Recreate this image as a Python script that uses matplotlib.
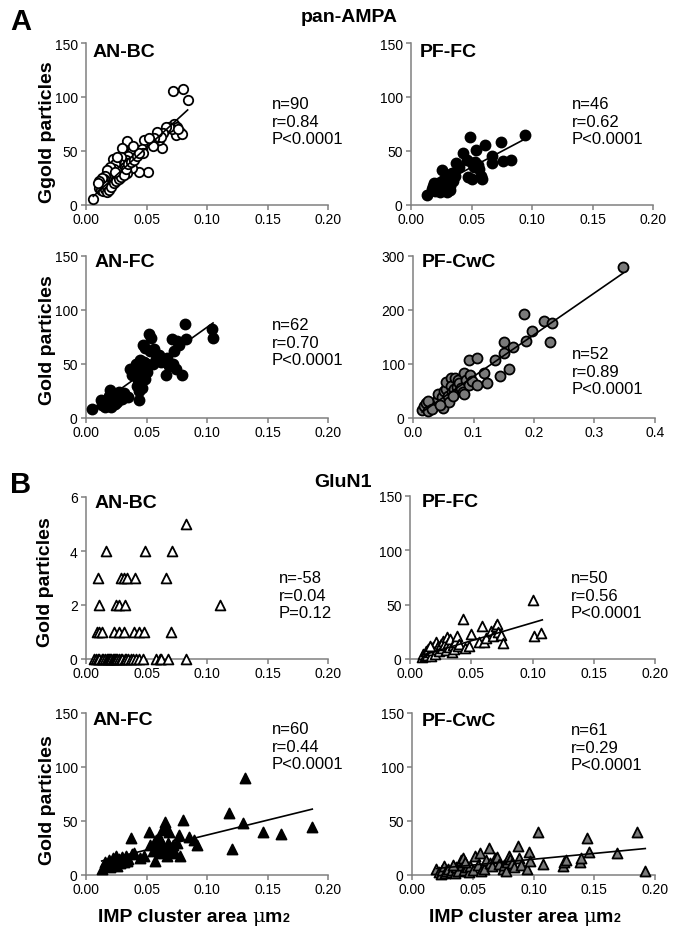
import matplotlib
matplotlib.use('Agg')
import matplotlib.pyplot as plt
from matplotlib.transforms import IdentityTransform

plt.rcParams['font.family'] = ['Liberation Sans', 'DejaVu Sans']

# ---------------- DATA ----------------
# A: pan-AMPA, AN-BC (open circles)
a_anbc_x = [0.072,0.080,0.084,
            0.073,0.075,0.078,0.074,0.079,0.071,0.069,0.076,
            0.066,0.064,0.063,0.060,0.058,0.062,0.059,0.056,0.054,0.055,
            0.048,0.052,0.046,0.047,0.051,0.044,
            0.034,0.030,0.038,0.040,0.037,0.035,
            0.033,0.036,0.038,0.031,0.029,0.028,0.026,0.027,0.025,
            0.022,0.024,0.023,0.021,0.020,0.019,0.018,0.020,0.022,0.024,
            0.026,0.028,0.030,0.032,0.034,0.017,0.016,0.015,0.014,
            0.013,0.012,0.011,0.012,0.014,0.016,0.018,0.015,0.013,0.011,
            0.010,0.017,0.019,0.021,0.023,0.025,0.027,0.029,0.031,0.033,
            0.035,0.037,0.040,0.042,0.044,0.026,0.024,0.006,0.039]
a_anbc_y = [106,107,97,
            75,72,68,65,66,70,72,70,
            72,67,53,60,62,63,68,62,58,55,
            60,62,52,48,31,31,
            59,53,52,50,48,45,
            42,36,34,40,44,38,35,30,42,
            43,38,33,30,35,28,25,22,24,27,
            26,28,32,35,30,32,27,24,22,
            20,18,16,14,13,15,18,19,25,22,
            20,12,14,17,20,22,24,26,28,33,
            38,40,42,45,48,44,31,6,55]
a_anbc_line_x = [0.006, 0.084]
a_anbc_line_y = [8, 88]

# A: pan-AMPA, PF-FC (filled black circles)
a_pffc_x = [0.013,0.017,0.018,0.020,0.021,0.022,0.023,0.024,0.025,0.026,
            0.026,0.027,0.028,0.029,0.030,0.030,0.031,0.032,0.033,0.034,
            0.035,0.036,0.037,0.043,0.046,0.047,0.049,0.050,0.050,0.052,
            0.053,0.054,0.055,0.056,0.058,0.059,0.061,0.067,0.067,0.074,
            0.076,0.083,0.094,0.040,0.019,0.032]
a_pffc_y = [9,15,18,13,17,20,15,12,18,22,
            32,16,24,28,12,20,25,18,29,30,
            22,27,39,48,42,26,63,24,39,35,
            40,51,37,33,27,24,56,39,45,58,
            41,42,65,35,20,14]
a_pffc_line_x = [0.013, 0.094]
a_pffc_line_y = [13, 61]

# A: pan-AMPA, AN-FC (filled black circles)
a_anfc_x = [0.005,0.012,0.013,0.015,0.016,0.017,0.018,0.019,0.020,0.020,
            0.021,0.022,0.023,0.024,0.025,0.026,0.027,0.028,0.030,0.031,
            0.035,0.038,0.040,0.041,0.042,0.043,0.044,0.044,0.045,0.045,
            0.046,0.047,0.047,0.048,0.049,0.049,0.050,0.050,0.052,0.053,
            0.054,0.055,0.056,0.058,0.060,0.062,0.064,0.066,0.067,0.069,
            0.071,0.072,0.073,0.074,0.075,0.077,0.079,0.082,0.083,0.104,
            0.105,0.036]
a_anfc_y = [8,17,12,14,10,16,12,20,26,14,
            10,18,16,13,22,15,24,20,18,23,
            19,40,44,50,30,35,17,25,54,42,
            28,68,47,52,36,65,43,50,78,62,
            74,50,64,55,58,52,53,40,56,48,
            73,50,62,45,71,68,40,87,73,82,
            74,45]
a_anfc_line_x = [0.005, 0.105]
a_anfc_line_y = [8, 88]

# A: pan-AMPA, PF-CwC (grey circles)
a_pfcwc_x = [0.015,0.018,0.022,0.025,0.025,0.031,0.041,0.042,0.048,0.050,
             0.052,0.055,0.055,0.058,0.060,0.062,0.063,0.065,0.068,0.070,
             0.072,0.074,0.076,0.078,0.080,0.082,0.085,0.088,0.092,0.092,
             0.095,0.098,0.105,0.105,0.118,0.122,0.136,0.143,0.151,0.151,
             0.158,0.165,0.183,0.187,0.196,0.216,0.227,0.230,0.347,0.045,
             0.066,0.085]
a_pfcwc_y = [14,23,28,13,32,16,35,44,38,18,
             50,54,66,41,30,75,60,48,53,75,
             58,70,65,50,55,48,84,70,62,107,
             80,68,61,112,83,64,107,78,120,140,
             90,132,193,142,161,180,141,176,280,25,
             40,44]
a_pfcwc_line_x = [0.015, 0.347]
a_pfcwc_line_y = [11, 268]

# B: GluN1, AN-BC (open triangles, no line)
b_anbc_x = [0.083,
            0.0165,0.049,0.071,
            0.0096,0.029,0.031,0.034,0.0405,0.066,
            0.0107,0.0248,0.027,0.0325,0.111,
            0.009,0.011,0.013,0.023,0.027,0.031,0.040,0.044,0.048,0.070,
            0.007,0.008,0.010,0.011,0.013,0.014,0.016,0.017,0.018,0.019,
            0.020,0.021,0.022,0.023,0.024,0.025,0.026,0.027,0.029,0.030,
            0.032,0.033,0.035,0.037,0.039,0.041,0.044,0.047,0.058,0.061,
            0.062,0.068,0.083]
b_anbc_y = [5,
            4,4,4,
            3,3,3,3,3,3,
            2,2,2,2,2,
            1,1,1,1,1,1,1,1,1,1,
            0,0,0,0,0,0,0,0,0,0,
            0,0,0,0,0,0,0,0,0,0,
            0,0,0,0,0,0,0,0,0,0,
            0,0,0]

# B: GluN1, PF-FC (open triangles)
b_pffc_x = [0.010,0.011,0.012,0.013,0.014,0.015,0.016,0.017,0.018,0.019,
            0.020,0.021,0.022,0.023,0.024,0.025,0.026,0.027,0.028,0.029,
            0.030,0.031,0.032,0.033,0.034,0.035,0.036,0.037,0.038,0.039,
            0.040,0.043,0.045,0.048,0.050,0.056,0.059,0.060,0.062,0.066,
            0.068,0.070,0.071,0.072,0.074,0.076,0.100,0.101,0.107,0.016]
b_pffc_y = [2,5,3,7,4,9,6,3,8,11,
            5,16,9,12,7,14,10,17,13,8,
            20,15,11,18,6,13,9,16,21,12,
            14,37,10,12,23,16,30,16,19,26,
            21,30,32,25,22,15,54,21,24,12]
b_pffc_line_x = [0.010, 0.108]
b_pffc_line_y = [3.5, 36]

# B: GluN1, AN-FC (filled black triangles)
b_anfc_x = [0.013,0.016,0.018,0.019,0.020,0.021,0.022,0.023,0.024,0.025,
            0.026,0.027,0.028,0.029,0.030,0.031,0.033,0.034,0.035,0.037,
            0.038,0.040,0.045,0.052,0.053,0.055,0.056,0.057,0.058,0.059,
            0.060,0.061,0.062,0.063,0.064,0.065,0.065,0.066,0.067,0.068,
            0.069,0.070,0.071,0.072,0.075,0.077,0.078,0.080,0.085,0.089,
            0.092,0.118,0.121,0.130,0.131,0.146,0.161,0.187,0.048,0.073]
b_anfc_y = [6,12,9,14,7,11,16,10,13,18,
            8,15,11,14,17,12,18,13,15,34,
            19,20,16,40,28,22,30,13,32,25,
            35,20,31,42,27,49,45,23,18,30,
            40,25,20,28,30,37,18,51,35,32,
            28,57,24,48,90,40,38,44,18,22]
b_anfc_line_x = [0.013, 0.187]
b_anfc_line_y = [13, 61]

# B: GluN1, PF-CwC (grey triangles)
b_pfcwc_x = [0.020,0.022,0.024,0.025,0.026,0.027,0.028,0.030,0.032,0.033,
             0.035,0.036,0.038,0.040,0.041,0.042,0.043,0.045,0.047,0.048,
             0.050,0.052,0.054,0.056,0.057,0.059,0.061,0.063,0.064,0.066,
             0.068,0.070,0.072,0.075,0.076,0.077,0.078,0.080,0.081,0.082,
             0.084,0.087,0.088,0.090,0.095,0.096,0.097,0.104,0.108,0.124,
             0.125,0.127,0.138,0.139,0.144,0.146,0.169,0.185,0.192,0.044,
             0.034]
b_pfcwc_y = [6,3,1,5,8,2,4,6,3,5,
             2,7,4,14,9,16,5,7,3,8,
             5,18,9,20,4,6,14,25,11,8,
             16,17,10,6,9,4,12,18,15,11,
             7,27,16,9,6,21,13,40,10,8,
             12,14,12,16,34,21,20,40,4,12,
             9]
b_pfcwc_line_x = [0.020, 0.192]
b_pfcwc_line_y = [6, 24.5]

titles = ['AN-BC', 'PF-FC', 'AN-FC', 'PF-CwC', 'AN-BC', 'PF-FC', 'AN-FC', 'PF-CwC']
stats = [['n=90', 'r=0.84', 'P<0.0001'],
         ['n=46', 'r=0.62', 'P<0.0001'],
         ['n=62', 'r=0.70', 'P<0.0001'],
         ['n=52', 'r=0.89', 'P<0.0001'],
         ['n=-58', 'r=0.04', 'P=0.12'],
         ['n=50', 'r=0.56', 'P<0.0001'],
         ['n=60', 'r=0.44', 'P<0.0001'],
         ['n=61', 'r=0.29', 'P<0.0001']]
ylabels = ['Ggold particles', None, 'Gold particles', None,
           'Gold particles', None, 'Gold particles', None]
x_ticks_02 = [0.00, 0.05, 0.10, 0.15, 0.20]
x_ticks_04 = [0.0, 0.1, 0.2, 0.3, 0.4]
y_ticks_150 = [0, 50, 100, 150]
y_ticks_300 = [0, 100, 200, 300]
y_ticks_6 = [0, 2, 4, 6]

# ---------------- LAYOUT ----------------
W, H = 678, 937
fig = plt.figure(figsize=(W / 100, H / 100), dpi=100)
PX = IdentityTransform()
GRAY = '#808080'
MGRAY = '#7a7a7a'


def rect(l, r, t, b):
    return [l / W, 1 - b / H, (r - l) / W, (b - t) / H]


def ftext(x, y, s, **kw):
    return fig.text(x, H - y, s, transform=PX, **kw)


panels = [
    dict(r=(86, 328, 44, 206), x=a_anbc_x, y=a_anbc_y, lx=a_anbc_line_x, ly=a_anbc_line_y,
         m='o', fc='white', s=46, xt=x_ticks_02, xf='{:.2f}', yt=y_ticks_150,
         tpos=(93, 53), spos=(272, 122), ylp=(47, 132)),
    dict(r=(411, 653, 44, 206), x=a_pffc_x, y=a_pffc_y, lx=a_pffc_line_x, ly=a_pffc_line_y,
         m='o', fc='black', s=52, xt=x_ticks_02, xf='{:.2f}', yt=y_ticks_150,
         tpos=(420, 53), spos=(572, 122), ylp=None),
    dict(r=(86, 328, 257, 419), x=a_anfc_x, y=a_anfc_y, lx=a_anfc_line_x, ly=a_anfc_line_y,
         m='o', fc='black', s=52, xt=x_ticks_02, xf='{:.2f}', yt=y_ticks_150,
         tpos=(95, 263), spos=(272, 343), ylp=(47, 340)),
    dict(r=(413, 655, 257, 419), x=a_pfcwc_x, y=a_pfcwc_y, lx=a_pfcwc_line_x, ly=a_pfcwc_line_y,
         m='o', fc=MGRAY, s=52, xt=x_ticks_04, xf='{:.1f}', yt=y_ticks_300,
         tpos=(422, 263), spos=(572, 372), ylp=None),
    dict(r=(86, 328, 498, 660), x=b_anbc_x, y=b_anbc_y, lx=None, ly=None,
         m='^', fc='white', s=50, xt=x_ticks_02, xf='{:.2f}', yt=y_ticks_6,
         tpos=(95, 504), spos=(279, 596), ylp=(46, 582)),
    dict(r=(410, 655, 497, 660), x=b_pffc_x, y=b_pffc_y, lx=b_pffc_line_x, ly=b_pffc_line_y,
         m='^', fc='white', s=50, xt=x_ticks_02, xf='{:.2f}', yt=y_ticks_150,
         tpos=(422, 503), spos=(571, 596), ylp=None),
    dict(r=(86, 328, 714, 876), x=b_anfc_x, y=b_anfc_y, lx=b_anfc_line_x, ly=b_anfc_line_y,
         m='^', fc='black', s=52, xt=x_ticks_02, xf='{:.2f}', yt=y_ticks_150,
         tpos=(93, 721), spos=(272, 747), ylp=(47, 800)),
    dict(r=(412, 655, 714, 876), x=b_pfcwc_x, y=b_pfcwc_y, lx=b_pfcwc_line_x, ly=b_pfcwc_line_y,
         m='^', fc=MGRAY, s=52, xt=x_ticks_02, xf='{:.2f}', yt=y_ticks_150,
         tpos=(422, 722), spos=(571, 748), ylp=None),
]

for i, p in enumerate(panels):
    ax = fig.add_axes(rect(*p['r']))
    ax.patch.set_alpha(0)
    ax.set_xlim(p['xt'][0], p['xt'][-1])
    ax.set_ylim(p['yt'][0], p['yt'][-1])
    for s in ['top', 'right']:
        ax.spines[s].set_visible(False)
    for s in ['left', 'bottom']:
        ax.spines[s].set_color(GRAY)
        ax.spines[s].set_linewidth(1.1)
    ax.set_xticks(p['xt'])
    ax.set_xticklabels([p['xf'].format(v) for v in p['xt']])
    ax.set_yticks(p['yt'])
    ax.set_yticklabels([str(v) for v in p['yt']])
    ax.tick_params(direction='out', length=3.5, width=1.1, color=GRAY,
                   labelsize=10, labelcolor='black')
    ax.tick_params(axis='x', pad=1.5)
    ax.tick_params(axis='y', pad=2.5)
    ax.scatter(p['x'], p['y'], s=p['s'], marker=p['m'], facecolors=p['fc'],
               edgecolors='black', linewidths=1.3, clip_on=False, zorder=3)
    if p['lx'] is not None:
        ax.plot(p['lx'], p['ly'], color='black', lw=1.2, zorder=4, clip_on=False)
    # title
    ftext(p['tpos'][0], p['tpos'][1], titles[i], fontsize=14, fontweight='bold',
          ha='left', va='center')
    # stats
    sx, sy = p['spos']
    for k, line in enumerate(stats[i]):
        ftext(sx, sy + 5 + (k - 1) * 17.5, line, fontsize=12, ha='left', va='baseline')
    if p['ylp'] is not None:
        ftext(p['ylp'][0], p['ylp'][1], ylabels[i], fontsize=14, fontweight='bold',
              rotation=90, ha='center', va='center')

# panel letters and group headings
ftext(10, 22, 'A', fontsize=21, fontweight='bold', ha='left', va='center')
ftext(10, 485, 'B', fontsize=21, fontweight='bold', ha='left', va='center')
ftext(349, 18, 'pan-AMPA', fontsize=14, fontweight='bold', ha='center', va='center')
ftext(343, 483, 'GluN1', fontsize=14, fontweight='bold', ha='center', va='center')

# x labels built from pieces: "IMP cluster area " bold, "μ" regular, "m" bold, "2" small bold
renderer = fig.canvas.get_renderer()
pieces = [('IMP cluster area ', dict(fontsize=14, fontweight='bold')),
          ('\u03bc', dict(fontsize=14, fontweight='normal', family=['DejaVu Serif'])),
          ('m', dict(fontsize=14, fontweight='bold')),
          ('2', dict(fontsize=9, fontweight='bold'))]
for x0 in (98, 429):
    x = x0
    for s, kw in pieces:
        t = ftext(x, 922, s, ha='left', va='baseline', **kw)
        bb = t.get_window_extent(renderer)
        x += bb.width

fig.savefig('out.png', dpi=100)
